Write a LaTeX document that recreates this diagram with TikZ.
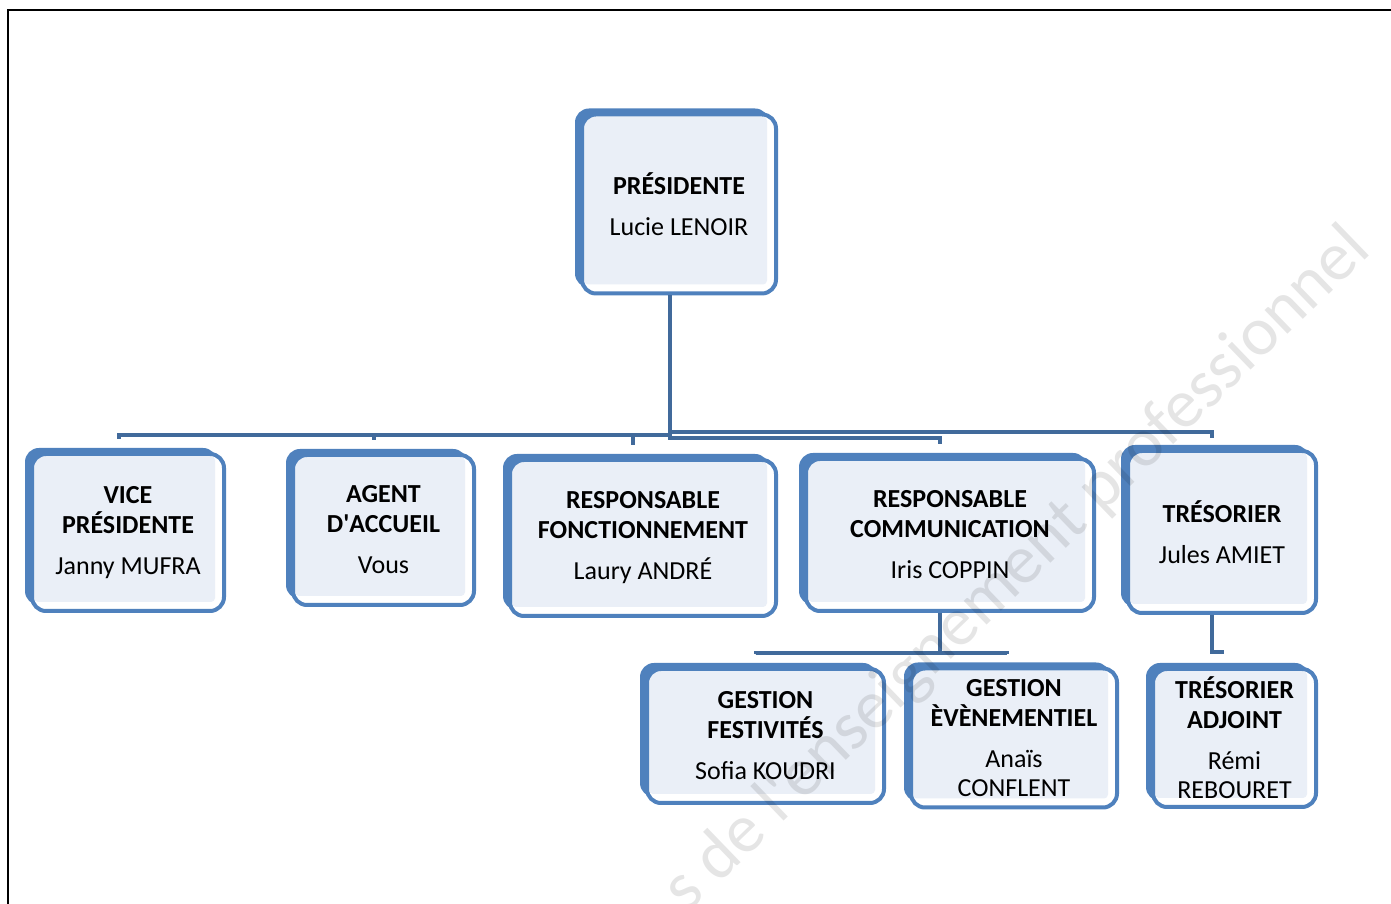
\documentclass[tikz,border=0pt]{standalone}
\usepackage{fontspec}
\setmainfont{Carlito}
\usetikzlibrary{shadows}
\definecolor{boxblue}{RGB}{79,129,189}
\definecolor{linkblue}{RGB}{65,106,155}
\definecolor{boxfill}{RGB}{234,239,247}
\tikzstyle{role} = [rectangle, rounded corners=14pt, draw=boxblue, line width=4pt, fill=white, align=center, inner sep=0pt, font=\fontsize{26}{30}\selectfont, general shadow={fill=boxblue, shadow xshift=-7pt, shadow yshift=6pt}, path picture={\fill[boxfill, rounded corners=4pt] ([shift={(2pt,9pt)}]path picture bounding box.south west) rectangle ([shift={(-9pt,-2pt)}]path picture bounding box.north east);}]
\tikzstyle{link} = [draw=linkblue, line width=4pt]
\tikzstyle{wmark} = [text=black, text opacity=0.10, font=\fontsize{69}{80}\selectfont, inner sep=0pt]
\begin{document}
\begin{tikzpicture}[x=1pt, y=1pt]
\useasboundingbox (0,0) rectangle (1391,904);
\clip (0,0) rectangle (1391,904);
\draw[line width=2.5pt] (8,0) -- (8,894) -- (1391,894);

\node (Presidente)[role, minimum width=194pt, minimum height=179pt] at (679,700) {\textbf{PRÉSIDENTE}\\[11pt]Lucie LENOIR};
\node (VicePres)[role, minimum width=192pt, minimum height=157pt] at (128,371.5) {\textbf{VICE}\\\textbf{PRÉSIDENTE}\\[11pt]Janny MUFRA};
\node (Accueil)[role, minimum width=181pt, minimum height=150pt] at (383.5,374) {\textbf{AGENT}\\\textbf{D\textquotesingle ACCUEIL}\\[11pt]Vous};
\node (RespFonct)[role, minimum width=266pt, minimum height=156pt] at (643,366) {\textbf{RESPONSABLE}\\\textbf{FONCTIONNEMENT}\\[11pt]Laury ANDRÉ};
\node (RespCom)[role, minimum width=288pt, minimum height=152pt] at (950,369) {\textbf{RESPONSABLE}\\\textbf{COMMUNICATION}\\[11pt]Iris COPPIN};
\node (Tresorier)[role, minimum width=188pt, minimum height=162pt] at (1222,372) {\textbf{TRÉSORIER}\\[11pt]Jules AMIET};

\draw[link] ([xshift=-9pt]Presidente.south) -- ++(0,-140) -| ([xshift=-9pt,yshift=13pt]VicePres.north);
\draw[link] ([xshift=-9pt]Presidente.south) -- ++(0,-140) -| ([xshift=-10pt,yshift=13pt]Accueil.north);
\draw[link] ([xshift=-9pt]Presidente.south) -- ++(0,-140) -| ([xshift=-10pt,yshift=13pt]RespFonct.north);
\draw[link] ([xshift=-9pt]Presidente.south) -- ++(0,-143) -| ([xshift=-10pt,yshift=13pt]RespCom.north);
\draw[link] ([xshift=-9pt]Presidente.south) -- ++(0,-137) -| ([xshift=-10pt,yshift=11pt]Tresorier.north);

\node (GestFest)[role, minimum width=237pt, minimum height=134pt] at (765.5,168) {\textbf{GESTION}\\\textbf{FESTIVITÉS}\\[11pt]Sofia KOUDRI};
\node (GestEvent)[role, minimum width=206pt, minimum height=139pt] at (1014,166) {\textbf{GESTION}\\\textbf{ÈVÈNEMENTIEL}\\[11pt]Anaïs\\[-1pt]CONFLENT};
\node (TresAdj)[role, minimum width=163pt, minimum height=138pt] at (1234.5,166) {\textbf{TRÉSORIER}\\\textbf{ADJOINT}\\[11pt]Rémi\\[-1pt]REBOURET};

\draw[link] ([xshift=-10pt]RespCom.south) -- ++(0,-40) -| ([xshift=-10pt,yshift=13pt]GestFest.north);
\draw[link] ([xshift=-10pt]RespCom.south) -- ++(0,-40) -| ([xshift=-7pt,yshift=13pt]GestEvent.north);
\draw[link] ([xshift=-10pt]Tresorier.south) -- ++(0,-37) -| ([xshift=-12.5pt,yshift=13pt]TresAdj.north);

\node (Filigrane)[wmark, rotate=44] at (1018,334) {s de l\textquotesingle enseignement professionnel};
\end{tikzpicture}
\end{document}
